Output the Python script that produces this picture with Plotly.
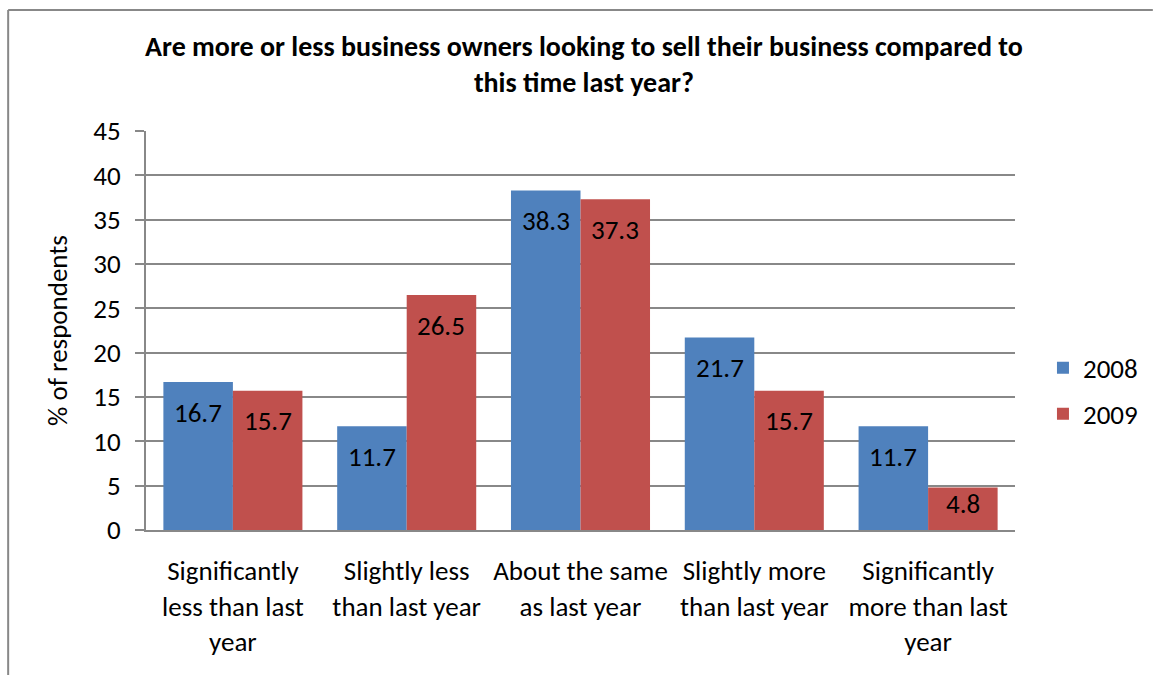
import plotly.graph_objects as go

categories = [
    "Significantly<br>less than last<br>year",
    "Slightly less<br>than last year",
    "About the same<br>as last year",
    "Slightly more<br>than last year",
    "Significantly<br>more than last<br>year",
]
values_2008 = [16.7, 11.7, 38.3, 21.7, 11.7]
values_2009 = [15.7, 26.5, 37.3, 15.7, 4.8]
series_names = ["2008", "2009"]
y_ticks = [0, 5, 10, 15, 20, 25, 30, 35, 40, 45]

FONT = "Carlito, Lato, sans-serif"
FS = 27
BLUE = "#4F81BD"
RED = "#C0504D"
BARGAP = 0.2

fig = go.Figure()
series = [(series_names[0], values_2008, BLUE), (series_names[1], values_2009, RED)]
for name, vals, col in series:
    fig.add_trace(go.Bar(
        x=categories, y=vals, name=name,
        marker=dict(color=col, line=dict(width=0)),
        legendgroup=name,
    ))

# value labels sit inside the top end of each bar
half = (1 - BARGAP) / 4
for k, (name, vals, col) in enumerate(series):
    offset = -half if k == 0 else half
    for i, v in enumerate(vals):
        fig.add_annotation(
            x=i + offset, y=max(v - 3.4, v / 2 + 0.6),
            xref="x", yref="y", text=f"{v:.1f}", showarrow=False,
            xanchor="center", yanchor="middle",
            font=dict(family=FONT, size=FS, color="black"),
        )

fig.update_layout(
    width=1154, height=675,
    margin=dict(l=146, r=138, t=131, b=145),
    paper_bgcolor="white", plot_bgcolor="white",
    barmode="group", bargap=BARGAP, bargroupgap=0,
    font=dict(family=FONT, size=FS, color="black"),
    title=dict(
        text="<b>Are more or less business owners looking to sell their business compared to<br>this time last year?</b>",
        x=0.506, xanchor="center", y=0.917, yanchor="middle",
        font=dict(family=FONT, size=28, color="black"),
    ),
    showlegend=True,
    legend=dict(x=1.031, y=0.348, xanchor="left", yanchor="middle",
                font=dict(family=FONT, size=FS), itemwidth=30,
                traceorder="grouped", tracegroupgap=8,
                bgcolor="rgba(0,0,0,0)"),
)
fig.update_xaxes(
    showline=True, linecolor="#888888", linewidth=2,
    ticks="", tickfont=dict(family=FONT, size=FS),
    ticklabelstandoff=16,
    showgrid=False,
)
fig.update_yaxes(
    range=[0, 45], tickvals=y_ticks, ticks="outside", ticklen=9,
    tickcolor="#888888", tickwidth=2,
    showline=True, linecolor="#888888", linewidth=2,
    showgrid=True, gridcolor="#888888", gridwidth=2,
    zeroline=False,
    ticklabelstandoff=9,
    tickfont=dict(family=FONT, size=FS),
    title=dict(text="% of respondents", font=dict(family=FONT, size=FS), standoff=18),
)

# outer chart border: top and left edges
fig.add_shape(type="line", xref="paper", yref="paper",
              x0=(8 - 146) / 870, x1=(1154 - 146) / 870,
              y0=1 + (131 - 10) / 399, y1=1 + (131 - 10) / 399,
              line=dict(color="#888888", width=2))
fig.add_shape(type="line", xref="paper", yref="paper",
              x0=(8 - 146) / 870, x1=(8 - 146) / 870,
              y0=1 + (131 - 10) / 399, y1=-(675 - 530) / 399,
              line=dict(color="#888888", width=2))

fig.write_html("out.html")
